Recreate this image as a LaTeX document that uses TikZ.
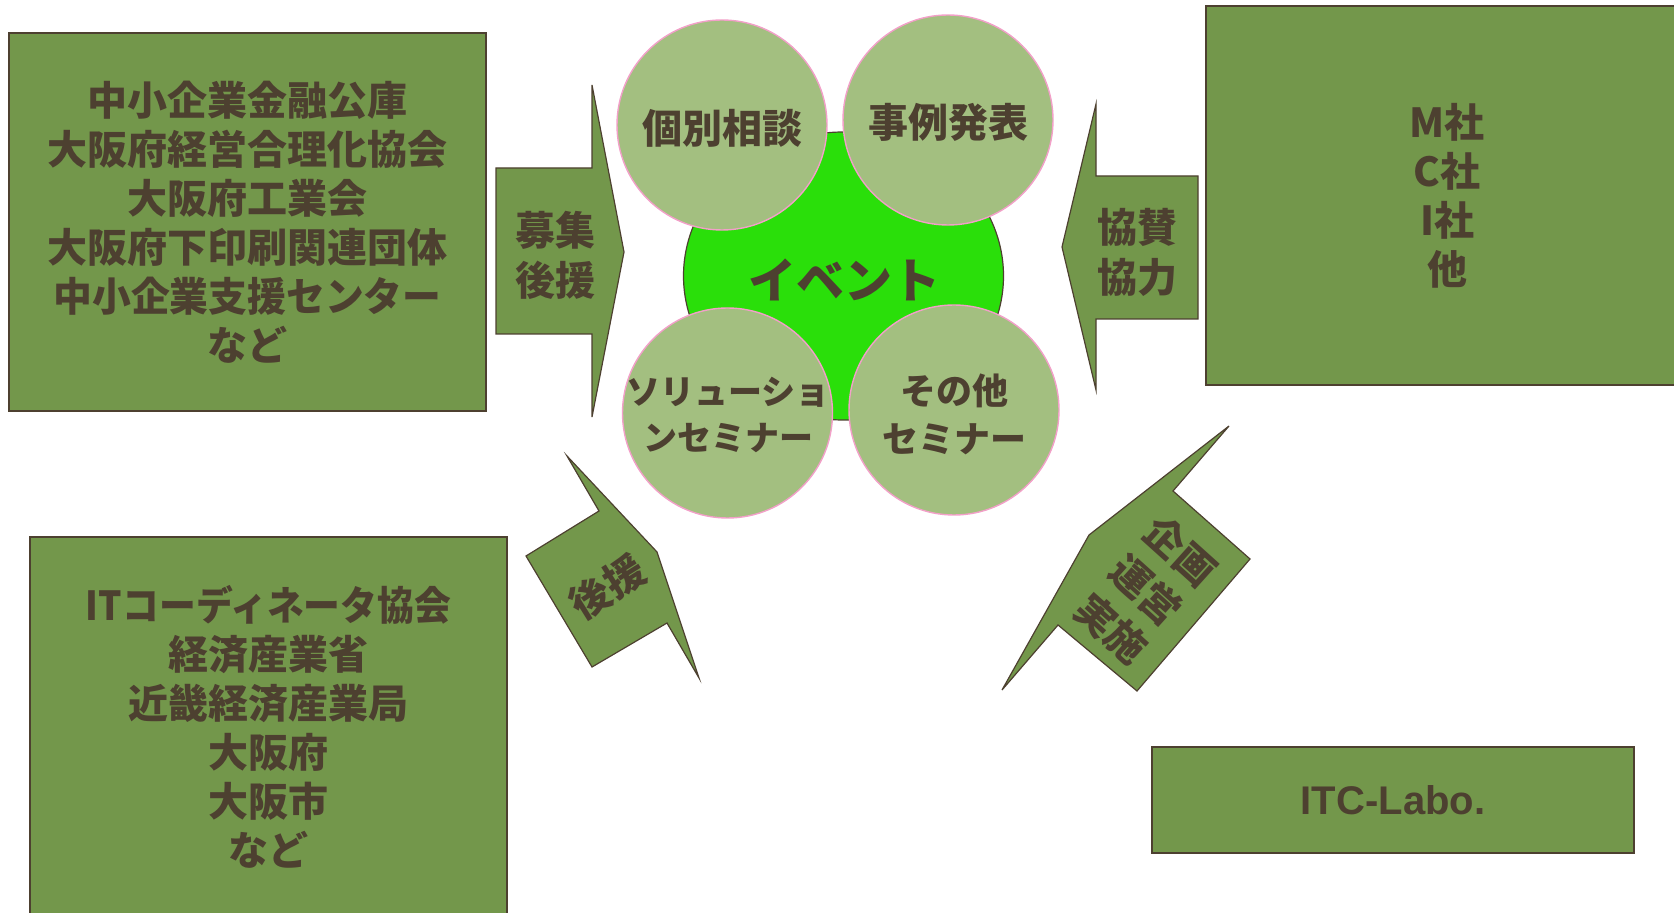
\documentclass[tikz,border=0pt]{standalone}
\usepackage{fontspec}
\setmainfont{Noto Sans CJK JP}
\newfontfamily\labofont{Liberation Sans}
\usetikzlibrary{shapes.geometric}

\definecolor{boxgreen}{RGB}{115,151,75}
\definecolor{leafgreen}{RGB}{163,191,128}
\definecolor{eventgreen}{RGB}{42,223,10}
\definecolor{rimbrown}{RGB}{77,64,48}
\definecolor{rimpink}{RGB}{242,160,200}

\tikzset{
	box/.style={rectangle, draw=rimbrown, fill=boxgreen, line width=0.6pt, text=rimbrown, align=center, font=\bfseries\fontsize{20}{24.5}\selectfont},
	topic/.style={circle, draw=rimpink, fill=leafgreen, line width=0.7pt, minimum size=105pt, inner sep=0pt},
	topictext/.style={text=rimbrown, align=center, font=\bfseries\fontsize{20}{24}\selectfont},
	blockarrow/.style={draw=rimbrown, fill=boxgreen, line width=0.6pt},
	arrowtext/.style={text=rimbrown, align=center, font=\bfseries\fontsize{20}{25}\selectfont}
}

\begin{document}
\begin{tikzpicture}[x=0.5pt, y=-0.5pt]
		\useasboundingbox (0,0) rectangle (1674,913);
		\clip (0,0) rectangle (1674,913);

		\node (lenders)[box, minimum width=238.5pt, minimum height=189pt] at (247.5,222) {中小企業金融公庫\\大阪府経営合理化協会\\大阪府工業会\\大阪府下印刷関連団体\\\scalebox{0.97}[1]{中小企業支援センター}\\など};
		\node (sponsors)[box, minimum width=241pt, minimum height=189.5pt] at (1447,195.5) {M社\\C社\\I社\\他};
		\node (agencies)[box, minimum width=238.5pt, minimum height=190pt] at (268.5,727) {\scalebox{0.92}[1]{ITコーディネータ協会}\\経済産業省\\近畿経済産業局\\大阪府\\大阪市\\など};
		\node (labo)[box, minimum width=241pt, minimum height=53pt, font=\labofont\bfseries\fontsize{20}{24}\selectfont] at (1393,800) {ITC-Labo.};

		\draw [blockarrow] (496,168) -- (592,168) -- (592,85) -- (624,252) -- (592,417) -- (592,334) -- (496,334) -- cycle;
		\node (recruit)[arrowtext] at (555,255) {募集\\後援};
		\draw [blockarrow] (1198,176) -- (1096,176) -- (1096,104) -- (1062,247) -- (1096,390) -- (1096,319) -- (1198,319) -- cycle;
		\node (support)[arrowtext] at (1137,252) {協賛\\協力};
		\draw [blockarrow] (599,511) -- (567,456) -- (657,552) -- (699,678) -- (667,623) -- (592,667) -- (526,556) -- cycle;
		\node (backing)[arrowtext, rotate=32] at (607,587) {後援};
		\draw [blockarrow] (1173,491) -- (1229,426) -- (1089,535) -- (1002,690) -- (1058,625) -- (1137,691) -- (1250,559) -- cycle;
		\node (planning)[arrowtext, rotate=-42, font=\bfseries\fontsize{20}{26}\selectfont] at (1146,590) {企画\\運営\\実施};

		\node (event)[ellipse, draw=rimbrown, fill=eventgreen, line width=0.6pt, minimum width=160pt, minimum height=144pt] at (843.5,276) {};
		\node (eventtext)[topictext, font=\bfseries\fontsize{24}{28}\selectfont] at (844,280) {イベント};

		\node (consult)[topic] at (722,125) {};
		\node (consulttext)[topictext] at (722,128) {個別相談};
		\node (cases)[topic] at (948,120) {};
		\node (casestext)[topictext] at (948,122) {事例発表};
		\node (solution)[topic] at (727.5,413) {};
		\node (solutiontext)[topictext, font=\bfseries\fontsize{17}{23}\selectfont] at (728,415) {ソリューショ\\ンセミナー};
		\node (others)[topic] at (954,410) {};
		\node (otherstext)[topictext, font=\bfseries\fontsize{18}{24}\selectfont] at (954,414) {その他\\セミナー};
	\end{tikzpicture}
\end{document}
